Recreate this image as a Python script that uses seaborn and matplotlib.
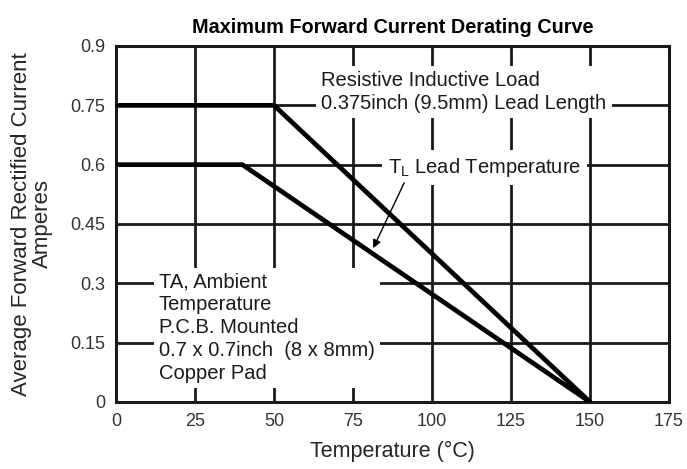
import matplotlib
matplotlib.use("Agg")
import matplotlib.pyplot as plt
import seaborn as sns
import pandas as pd

# Data
upper_temp = [0, 50, 150]
upper_current = [0.75, 0.75, 0.0]
lower_temp = [0, 40, 150]
lower_current = [0.6, 0.6, 0.0]
curve_names = ["Lead", "Ambient"]
x_ticks = [0, 25, 50, 75, 100, 125, 150, 175]
y_ticks = [0, 0.15, 0.3, 0.45, 0.6, 0.75, 0.9]
y_tick_labels = ["0", "0.15", "0.3", "0.45", "0.6", "0.75", "0.9"]

df = pd.DataFrame({
    "temp": upper_temp + lower_temp,
    "current": upper_current + lower_current,
    "curve": [curve_names[0]] * len(upper_temp) + [curve_names[1]] * len(lower_temp),
})

sns.set_style("white")
plt.rcParams["font.family"] = ["Liberation Sans", "DejaVu Sans"]
plt.rcParams["mathtext.fontset"] = "custom"
plt.rcParams["mathtext.rm"] = "Liberation Sans"
plt.rcParams["mathtext.default"] = "regular"

fig = plt.figure(figsize=(6.87, 4.69), dpi=100)
ax = fig.add_axes([116 / 687, 1 - 402 / 469, (669 - 116) / 687, (402 - 46) / 469])

sns.lineplot(data=df, x="temp", y="current", hue="curve", palette=["black", "black"],
             sort=False, estimator=None, linewidth=3.4, legend=False, ax=ax, zorder=5)

ax.set_xlim(0, 175)
ax.set_ylim(0, 0.9)
ax.set_xticks(x_ticks)
ax.set_yticks(y_ticks)
ax.set_yticklabels(y_tick_labels)
ax.tick_params(length=0, labelsize=13, colors="#333333", pad=8)
ax.grid(True, color="#1a1a1a", linewidth=2.0, zorder=1)
ax.set_axisbelow(True)
for s in ax.spines.values():
    s.set_color("#1a1a1a")
    s.set_linewidth(2.2)

ax.set_xlabel("Temperature (°C)", fontsize=15.5, labelpad=8)
ax.set_ylabel("Average Forward Rectified Current\nAmperes", fontsize=16, labelpad=12,
              linespacing=1.0)
ax.set_title("Maximum Forward Current Derating Curve", fontsize=14.3, fontweight="bold",
             pad=9, color="black")

box = dict(boxstyle="square,pad=0.25", facecolor="white", edgecolor="none")
ax.text(65, 0.784, "Resistive Inductive Load\n0.375inch (9.5mm) Lead Length",
        fontsize=14.5, color="#1a1a1a", ha="left", va="center", linespacing=1.25,
        bbox=box, zorder=3)
ax.text(86, 0.592, r"T$_\mathregular{L}$ Lead Temperature",
        fontsize=14.5, color="#1a1a1a", ha="left", va="center",
        bbox=dict(boxstyle="square,pad=0.3", facecolor="white", edgecolor="none"), zorder=3)
ax.text(13.5, 0.188,
        "TA, Ambient\nTemperature\nP.C.B. Mounted\n0.7 x 0.7inch  (8 x 8mm)\nCopper Pad",
        fontsize=14.5, color="#1a1a1a", ha="left", va="center", linespacing=1.25,
        bbox=box, zorder=3)
ax.annotate("", xy=(81.4, 0.389), xytext=(91.2, 0.554),
            arrowprops=dict(arrowstyle="-|>", color="black", lw=1.0,
                            mutation_scale=12, shrinkA=0, shrinkB=0), zorder=6)

fig.savefig("out.png", dpi=100)
